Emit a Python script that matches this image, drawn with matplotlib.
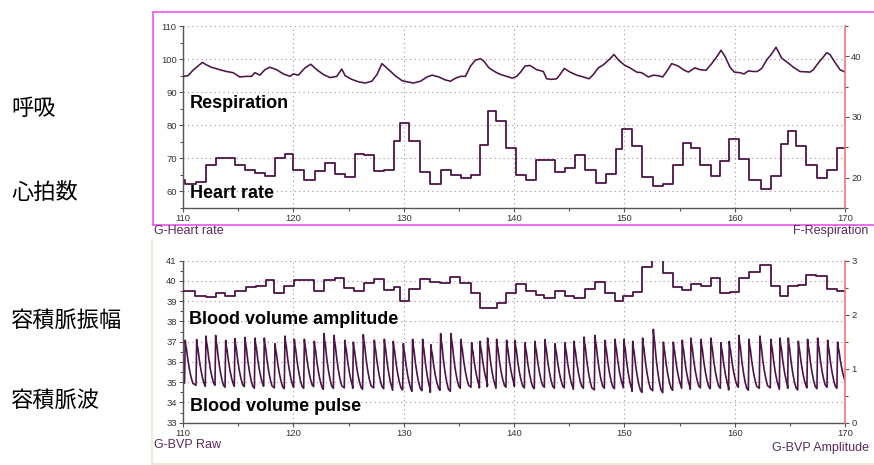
import matplotlib
matplotlib.use("Agg")
import matplotlib.pyplot as plt
from matplotlib.lines import Line2D
from matplotlib.ticker import MultipleLocator

# ---------------- data ----------------
# Heart rate (bpm) step values: start time of each step and its value
hr_t = [110.0, 110.2, 111.2, 112.1, 113.0, 114.7, 115.6, 116.5, 117.4, 118.3, 119.2, 120.0,
        121.0, 122.0, 122.9, 123.8, 124.7, 125.6, 126.4, 127.3, 128.2, 129.1, 129.7, 130.5,
        131.5, 132.4, 133.4, 134.3, 135.2, 136.1, 136.9, 137.6, 138.4, 139.3, 140.2, 141.1,
        142.0, 143.7, 144.6, 145.5, 146.4, 147.4, 148.3, 149.2, 149.8, 150.7, 151.6, 152.6,
        153.5, 154.4, 155.3, 156.0, 156.9, 157.9, 158.7, 159.5, 160.4, 161.3, 162.4, 163.3,
        164.2, 164.8, 165.6, 166.5, 167.5, 168.4, 169.3]
hr_v = [63.4, 62.4, 63.0, 68.1, 70.0, 68.1, 66.4, 65.6, 64.7, 70.0, 71.2, 66.5,
        63.4, 66.2, 68.5, 65.4, 64.5, 71.3, 71.0, 66.1, 66.6, 75.1, 80.8, 75.3,
        65.9, 62.4, 66.4, 65.1, 64.1, 65.1, 74.0, 84.2, 81.4, 73.0, 65.1, 63.6,
        69.4, 65.9, 67.0, 70.9, 66.5, 62.7, 65.3, 72.7, 78.9, 73.6, 64.5, 61.6,
        62.2, 67.9, 74.6, 73.1, 67.9, 64.7, 69.1, 75.8, 69.8, 63.4, 60.6, 64.6,
        74.2, 78.2, 73.6, 67.9, 64.1, 66.4, 73.1]

# Respiration (right axis)
resp_t = [110.0, 110.45, 110.9, 111.36, 111.76, 112.12, 112.58, 113.33, 113.94, 114.55, 115.15,
          115.76, 116.21, 116.52, 116.97, 117.42, 117.88, 118.48, 119.09, 119.7, 120.0, 120.45,
          121.06, 121.58, 122.12, 122.73, 123.33, 123.94, 124.39, 124.7, 125.3, 125.91, 126.52,
          127.12, 127.58, 128.03, 128.64, 129.24, 129.85, 130.3, 130.9, 131.52, 132.12, 132.58,
          133.18, 133.79, 134.24, 134.7, 135.15, 135.6, 136.06, 136.52, 136.97, 137.27, 137.73,
          138.33, 138.79, 139.33, 139.85, 140.24, 140.6, 141.0, 141.45, 142.05, 142.66, 142.96,
          143.41, 143.87, 144.17, 144.56, 145.08, 145.68, 146.28, 146.8, 147.19, 147.64, 148.1,
          148.7, 149.06, 149.46, 149.85, 150.06, 150.51, 151.12, 151.57, 152.18, 152.63, 153.08,
          153.47, 153.84, 154.29, 154.89, 155.35, 155.8, 156.4, 156.86, 157.4, 157.92, 158.52,
          158.76, 159.12, 159.58, 159.97, 160.48, 160.85, 161.24, 161.69, 162.05, 162.45, 162.9,
          163.35, 163.75, 164.26, 164.86, 165.32, 165.92, 166.83, 167.13, 167.58, 168.04, 168.34,
          168.64, 169.09, 169.55, 170.0]
resp_v = [36.7, 36.8, 37.7, 38.4, 39.0, 38.6, 38.2, 37.8, 37.5, 37.3, 36.6,
          36.7, 36.7, 37.3, 36.9, 37.8, 38.2, 37.8, 37.1, 36.7, 37.1, 36.9,
          38.1, 38.7, 37.8, 37.0, 36.5, 36.7, 37.9, 36.8, 36.2, 35.8, 35.6,
          35.9, 37.0, 38.8, 37.8, 36.8, 36.0, 35.8, 35.6, 35.9, 36.6, 36.9,
          36.6, 36.1, 35.9, 36.4, 36.7, 36.7, 38.4, 39.4, 39.6, 39.2, 38.1,
          37.4, 37.0, 36.7, 36.4, 36.7, 37.4, 38.4, 38.5, 37.8, 37.5, 36.3,
          36.2, 36.3, 37.0, 38.0, 37.4, 36.9, 36.6, 36.3, 37.0, 38.1, 38.6,
          39.6, 40.3, 39.4, 38.8, 38.5, 38.1, 37.4, 37.3, 36.6, 36.9, 36.8,
          36.6, 37.5, 38.8, 38.4, 37.8, 37.4, 38.1, 37.8, 37.7, 38.8, 40.3,
          41.0, 40.0, 38.2, 37.4, 37.3, 37.1, 37.6, 37.5, 37.5, 38.0, 39.4,
          40.4, 41.5, 39.7, 38.9, 38.2, 37.5, 37.4, 37.8, 38.9, 39.9, 40.6,
          40.3, 39.0, 37.8, 37.4]

# BVP amplitude (right axis, step)
amp_t = [110.0, 111.06, 112.12, 112.97, 113.79, 114.7, 115.7, 116.6, 117.5, 118.27, 119.18,
         120.06, 121.9, 122.8, 123.8, 124.6, 125.5, 126.4, 127.3, 128.2, 129.1, 129.7, 130.5,
         131.45, 132.4, 133.3, 134.2, 135.15, 136.06, 136.9, 137.7, 138.5, 139.3, 140.2, 141.1,
         142.0, 142.75, 143.7, 144.6, 145.45, 146.4, 147.3, 148.25, 149.15, 149.85, 150.75,
         151.6, 152.5, 153.5, 154.4, 155.2, 156.05, 156.95, 157.85, 158.7, 159.6, 160.4, 161.3,
         162.3, 163.25, 164.1, 164.85, 165.75, 166.5, 167.4, 168.4, 169.3]
amp_v = [2.43, 2.35, 2.32, 2.41, 2.35, 2.44, 2.51, 2.54, 2.64, 2.40, 2.54,
         2.64, 2.44, 2.65, 2.68, 2.50, 2.43, 2.59, 2.67, 2.46, 2.51, 2.25, 2.47,
         2.67, 2.61, 2.59, 2.69, 2.58, 2.41, 2.13, 2.12, 2.21, 2.40, 2.57, 2.43,
         2.37, 2.31, 2.43, 2.34, 2.31, 2.47, 2.61, 2.40, 2.26, 2.34, 2.42,
         2.89, 3.25, 2.77, 2.51, 2.46, 2.56, 2.54, 2.68, 2.40, 2.42, 2.68, 2.80,
         2.92, 2.54, 2.35, 2.54, 2.55, 2.74, 2.71, 2.48, 2.43]

# BVP raw: beat peak times, peak values and the trough value before each peak
bvp_peak_t = [110.2, 111.24, 112.08, 112.96, 113.87, 114.71, 115.62, 116.53, 117.37, 118.34,
              119.24, 120.09, 121.0, 121.9, 122.78, 123.69, 124.68, 125.44, 126.34, 127.34,
              128.25, 129.06, 129.97, 130.81, 131.72, 132.47, 133.35, 134.29, 135.19, 136.16,
              136.92, 137.61, 138.43, 139.33, 140.09, 141.0, 141.9, 142.81, 143.72, 144.62,
              145.44, 146.35, 147.34, 148.25, 149.16, 149.97, 150.76, 151.66, 152.63, 153.54,
              154.44, 155.25, 156.04, 156.95, 157.85, 158.76, 159.51, 160.39, 161.3, 162.29,
              163.29, 164.11, 164.86, 165.77, 166.61, 167.52, 168.43, 169.33]
bvp_peak_v = [37.07, 37.1, 37.28, 37.31, 37.07, 37.15, 37.21, 37.18, 37.18, 36.9,
              37.28, 37.12, 37.12, 37.02, 37.4, 37.31, 37.07, 36.98, 37.35, 37.07,
              37.12, 37.02, 36.9, 37.12, 37.12, 36.85, 37.4, 37.4, 37.12, 36.95,
              37.02, 37.18, 37.12, 37.07, 37.07, 36.95, 37.02, 37.1, 36.9, 36.95,
              37.02, 37.23, 37.31, 37.07, 37.12, 37.12, 37.02, 37.18, 37.61, 36.98,
              36.98, 37.07, 37.18, 37.12, 37.18, 36.95, 37.02, 37.31, 37.12, 37.28,
              37.12, 37.18, 37.18, 37.02, 37.12, 37.18, 37.07, 36.98]
bvp_trough_v = [34.95, 34.85, 34.8, 34.85, 34.75, 34.8, 34.78, 34.7, 34.8, 34.72,
                34.68, 34.75, 34.7, 34.78, 34.65, 34.7, 34.72, 34.7, 34.65, 34.72,
                34.68, 34.6, 34.62, 34.55, 34.58, 34.5, 34.6, 34.55, 34.7, 34.75,
                34.72, 34.78, 34.7, 34.75, 34.8, 34.72, 34.68, 34.75, 34.7, 34.72,
                34.65, 34.7, 34.62, 34.7, 34.68, 34.72, 34.55, 34.5, 34.58, 34.48,
                34.6, 34.7, 34.65, 34.72, 34.68, 34.7, 34.62, 34.75, 34.6, 34.7,
                34.72, 34.65, 34.7, 34.62, 34.72, 34.68, 34.75, 34.7]
bvp_end_v = 34.95

x_ticks = [110, 120, 130, 140, 150, 160, 170]

# ---------------- style ----------------
W, H = 874, 465
LINE = "#4d1446"
GRID = "#a88aa8"
AXC = "#555555"
RED = "#f07474"
TXT = "#333333"
LAB = "#5a2a5a"
SANS = ["Liberation Sans", "DejaVu Sans"]
CJK = ["Noto Sans CJK JP", "DejaVu Sans"]

fig = plt.figure(figsize=(W / 100, H / 100), dpi=100)


def rect(x0, y0, x1, y1):
    return [x0 / W, 1 - y1 / H, (x1 - x0) / W, (y1 - y0) / H]


def style(ax, axr, ylim, yr_lim, ymaj, ymin, yrmaj, yrmin):
    ax.set_xlim(110, 170)
    ax.set_ylim(*ylim)
    axr.set_ylim(*yr_lim)
    ax.set_xticks(x_ticks)
    ax.xaxis.set_minor_locator(MultipleLocator(5))
    ax.yaxis.set_major_locator(MultipleLocator(ymaj))
    ax.yaxis.set_minor_locator(MultipleLocator(ymin))
    axr.yaxis.set_major_locator(MultipleLocator(yrmaj))
    axr.yaxis.set_minor_locator(MultipleLocator(yrmin))
    for s in ("top", "right"):
        ax.spines[s].set_visible(False)
    for s in ("top", "left", "bottom"):
        axr.spines[s].set_visible(False)
    ax.spines["left"].set_color(AXC)
    ax.spines["bottom"].set_color(AXC)
    ax.spines["left"].set_linewidth(1.0)
    ax.spines["bottom"].set_linewidth(1.0)
    axr.spines["right"].set_color(RED)
    axr.spines["right"].set_linewidth(1.2)
    for a in (ax, axr):
        a.tick_params(which="major", length=3, width=0.8, color=AXC,
                      labelsize=6.8, labelcolor=TXT, pad=1.5)
        a.tick_params(which="minor", length=2.5, width=0.8, color=AXC)
        for lab in a.get_xticklabels() + a.get_yticklabels():
            lab.set_fontfamily(SANS)
    ax.grid(True, which="major", linestyle=(0, (1, 3)), color=GRID, linewidth=0.8)
    ax.set_facecolor("none")


# top panel
ax1 = fig.add_axes(rect(183, 26, 845, 208))
ax1r = ax1.twinx()
style(ax1, ax1r, (55, 110), (15, 45), 10, 5, 10, 5)
ax1.step(hr_t + [170.0], hr_v + [hr_v[-1]], where="post", color=LINE, lw=1.3)
ax1r.plot(resp_t, resp_v, color=LINE, lw=1.15)

# bottom panel
ax2 = fig.add_axes(rect(183, 260.7, 845, 422.7))
ax2r = ax2.twinx()
style(ax2, ax2r, (33, 41), (0, 3), 1, 0.5, 1, 0.5)
ax2r.step(amp_t + [170.0], amp_v + [amp_v[-1]], where="post", color=LINE, lw=1.3)

# BVP waveform drawn through the read peaks / troughs of each beat
bt, bv = [110.0], [bvp_trough_v[0]]
n = len(bvp_peak_t)
for i in range(n):
    pt, pv = bvp_peak_t[i], bvp_peak_v[i]
    tv = bvp_trough_v[i]
    nxt = bvp_trough_v[i + 1] if i + 1 < n else bvp_end_v
    A = pv - nxt
    bt += [pt - 0.06, pt, pt + 0.05, pt + 0.12, pt + 0.25, pt + 0.4, pt + 0.55, pt + 0.7]
    bv += [tv, pv, pv - 0.12 * A, pv - 0.2 * A, nxt + 0.55 * A, nxt + 0.33 * A,
           nxt + 0.16 * A, nxt + 0.04 * A]
ax2.plot(bt, bv, color=LINE, lw=1.2, clip_on=True)

# ---------------- frames ----------------
MAG = "#f060f0"
fig.add_artist(Line2D([153 / W, 1.0], [1 - 12 / H, 1 - 12 / H], color=MAG, lw=1.3))
fig.add_artist(Line2D([153 / W, 1.0], [1 - 225 / H, 1 - 225 / H], color=MAG, lw=1.3))
fig.add_artist(Line2D([153 / W, 153 / W], [1 - 12 / H, 1 - 225 / H], color=MAG, lw=1.3))
BEI = "#ede9dc"
fig.add_artist(Line2D([152 / W, 152 / W], [1 - 240 / H, 1 - 464 / H], color=BEI, lw=1.5))
fig.add_artist(Line2D([152 / W, 1.0], [1 - 464 / H, 1 - 464 / H], color=BEI, lw=1.5))


def ftext(x, y, s, **kw):
    fig.text(x / W, 1 - y / H, s, **kw)


# channel names
ftext(154, 231, "G-Heart rate", fontsize=9, color=LAB, family=SANS, va="center", ha="left")
ftext(868, 231, "F-Respiration", fontsize=9, color=LAB, family=SANS, va="center", ha="right")
ftext(154, 445, "G-BVP Raw", fontsize=9, color=LAB, family=SANS, va="center", ha="left")
ftext(869, 448, "G-BVP Amplitude", fontsize=9, color=LAB, family=SANS, va="center", ha="right")

# bold in-plot labels
for (x, y, s) in [(190, 103, "Respiration"), (190, 193, "Heart rate"),
                  (189, 319, "Blood volume amplitude"), (190, 406, "Blood volume pulse")]:
    ftext(x, y, s, fontsize=13, fontweight="bold", color="black", family=SANS,
          va="center", ha="left")

# Japanese labels
for (y, s) in [(108, "呼吸"), (192, "心拍数"), (320, "容積脈振幅"), (400, "容積脈波")]:
    ftext(11, y, s, fontsize=16, color="black", family=CJK, va="center", ha="left")

fig.savefig("out.png", dpi=100)
